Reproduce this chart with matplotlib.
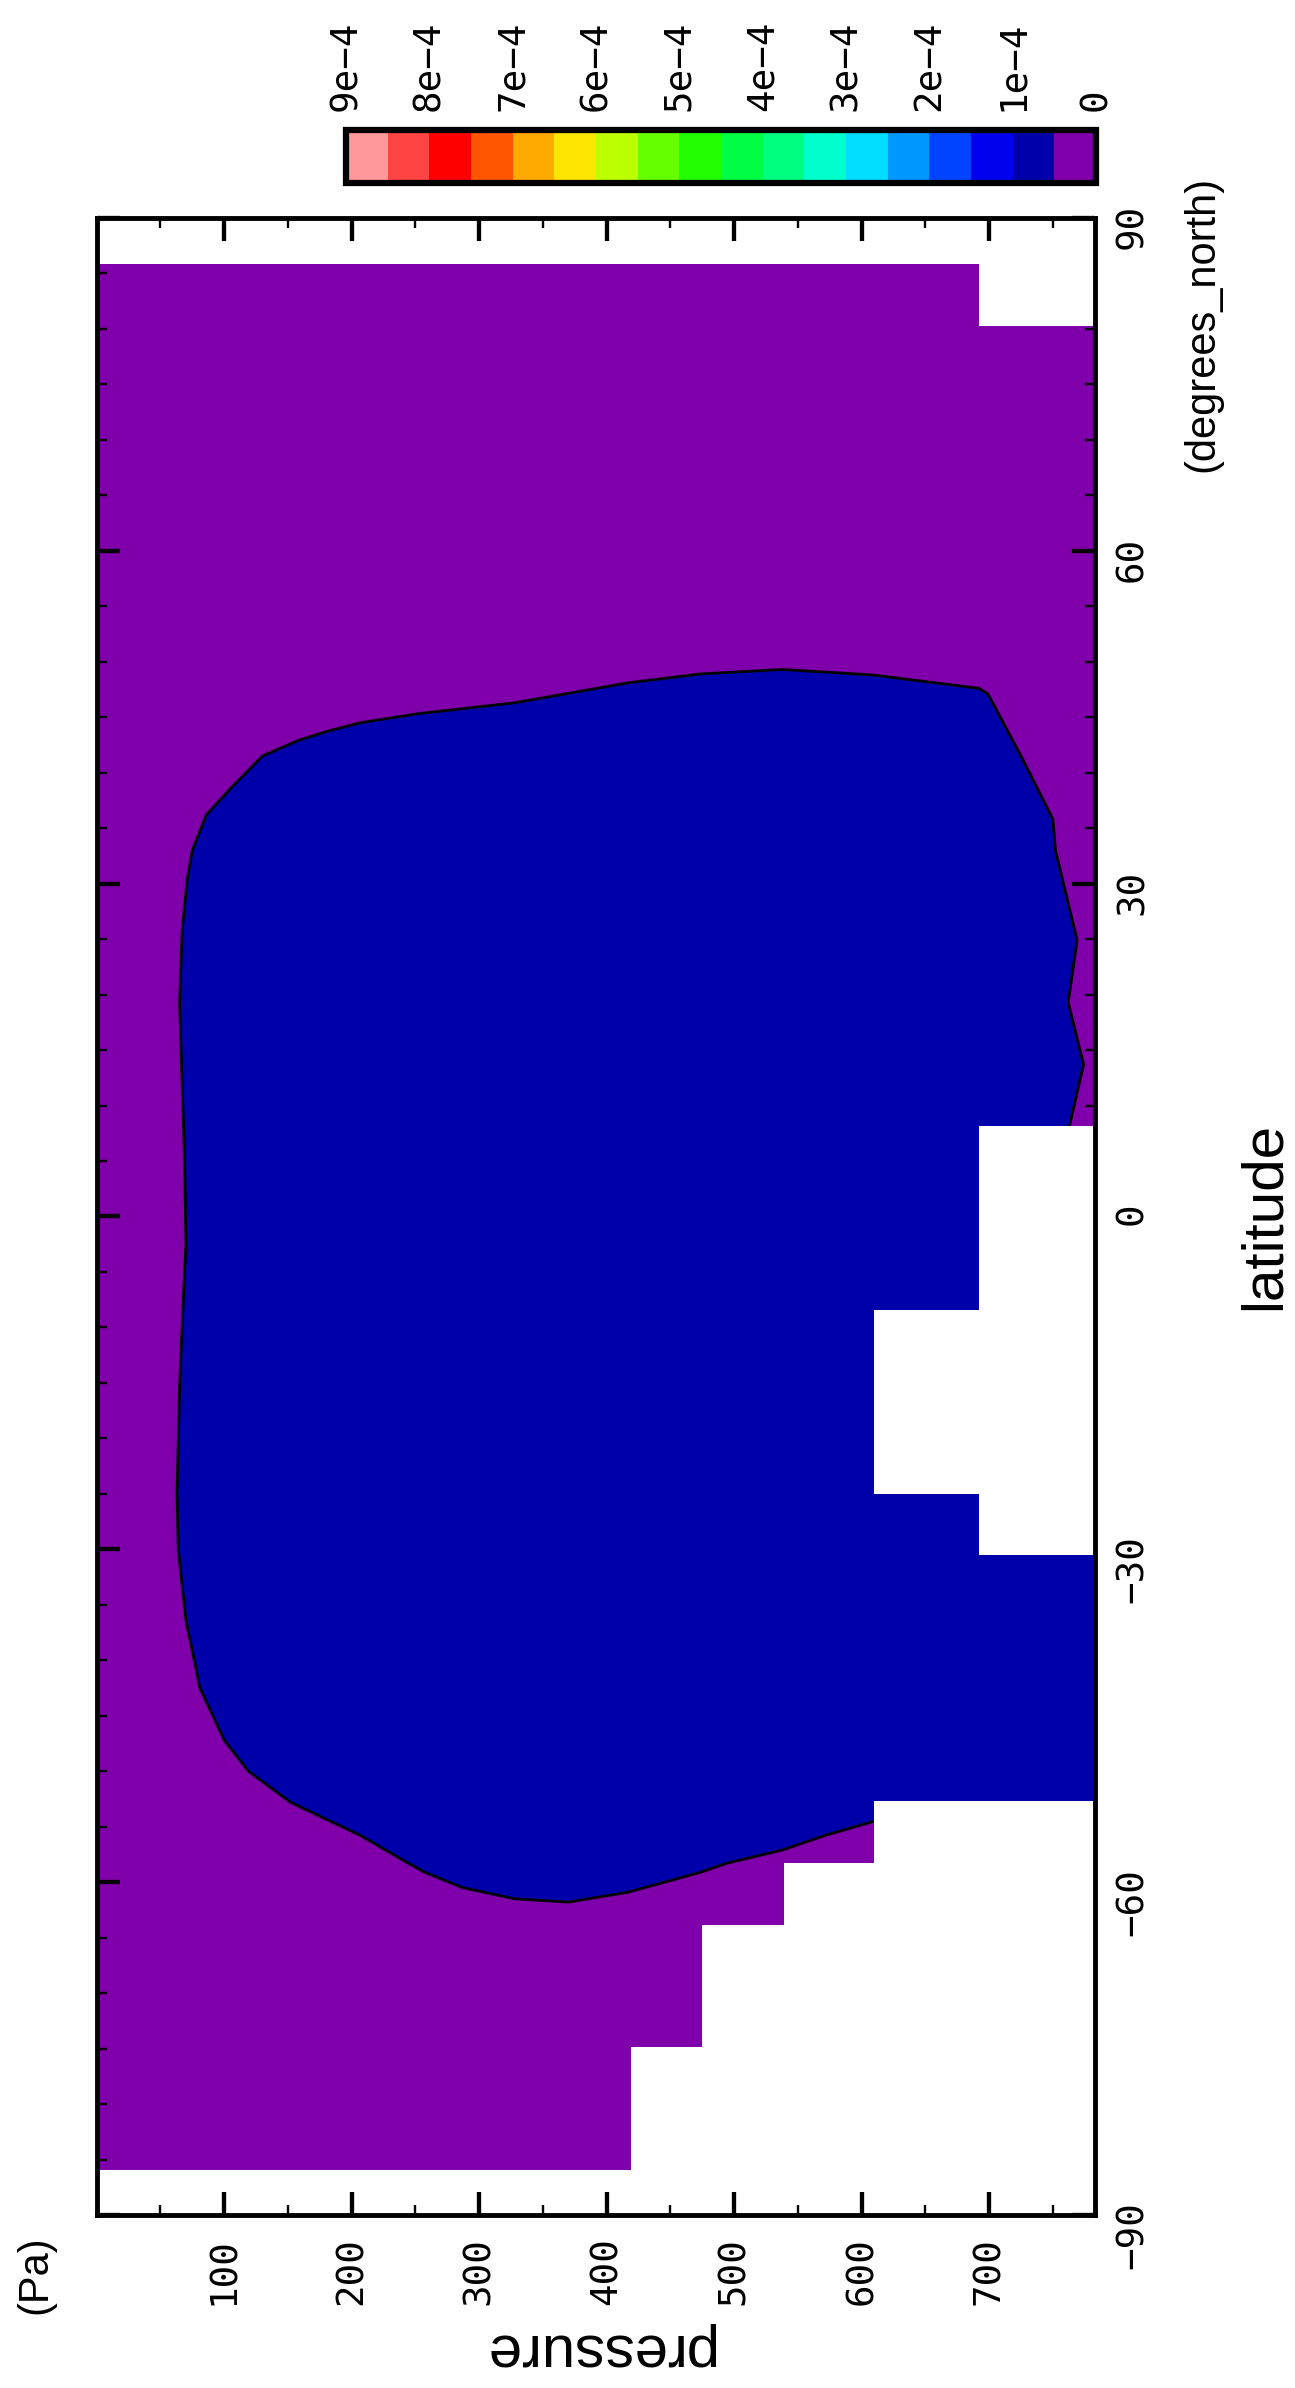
import numpy as np
import matplotlib
matplotlib.use('Agg')
import matplotlib.pyplot as plt
import matplotlib.cm as cm
from matplotlib.colors import ListedColormap, BoundaryNorm

# shade levels and colours (low -> high)
levels = [0, 0.5e-4, 1e-4, 1.5e-4, 2e-4, 2.5e-4, 3e-4, 3.5e-4, 4e-4, 4.5e-4,
          5e-4, 5.5e-4, 6e-4, 6.5e-4, 7e-4, 7.5e-4, 8e-4, 8.5e-4, 9e-4]
shade_colors = ['#7F00AA', '#0000AA', '#0000EE', '#0044FF', '#0099FF', '#00DDFF',
                '#00FFCC', '#00FF80', '#00FF44', '#22FF00', '#66FF00', '#BBFF00',
                '#FFE600', '#FFAA00', '#FF5500', '#FF0000', '#FF4444', '#FF9999']
cbar_ticks = [0, 1e-4, 2e-4, 3e-4, 4e-4, 5e-4, 6e-4, 7e-4, 8e-4, 9e-4]
cbar_labels = ['0', '1e\u22124', '2e\u22124', '3e\u22124', '4e\u22124', '5e\u22124',
               '6e\u22124', '7e\u22124', '8e\u22124', '9e\u22124']

# 5e-5 contour (pressure in Pa, latitude in degrees_north)
contour_p = [763, 774, 762, 769, 752, 750, 725, 699, 692, 609, 538, 474, 417, 328,
             251, 207, 180, 158, 130, 106, 86, 75, 71, 67, 65, 69, 70, 68, 65, 63,
             64, 70, 81, 100, 119, 152, 207, 240, 257, 287, 328, 370, 417, 455, 474,
             494, 538, 571, 610]
contour_lat = [8.15, 13.7, 19.3, 24.9, 33.0, 35.8, 41.5, 47.1, 47.6, 48.8, 49.3, 48.9,
               48.1, 46.3, 45.3, 44.5, 43.7, 42.9, 41.5, 38.7, 36.2, 33.0, 30.4, 25.7,
               19.3, 4.8, -2.5, -7.3, -15.3, -25.0, -30.1, -36.4, -42.5, -47.2, -50.0,
               -52.8, -55.8, -58.0, -59.1, -60.5, -61.5, -61.8, -60.9, -59.7, -59.1,
               -58.3, -57.1, -55.8, -54.5]

# missing data below the surface: latitude bands and the pressure where data stops
mask_lat = [-85.96, -74.90, -63.82, -58.30, -52.73, -30.47, -25.0, -8.40, 8.15, 80.30, 85.86]
mask_p = [419, 475, 539, 610, None, 692, 610, 692, None, 692]

pmax = 783
lat_ticks = [-90, -60, -30, 0, 30, 60, 90]
lat_labels = ['\u221290', '\u221260', '\u221230', '0', '30', '60', '90']
p_ticks = [100, 200, 300, 400, 500, 600, 700]
p_labels = ['100', '200', '300', '400', '500', '600', '700']

plt.rcParams['font.family'] = ['DejaVu Sans Mono']
plt.rcParams['font.size'] = 27

W, H = 1295, 2388
fig = plt.figure(figsize=(W / 100, H / 100), dpi=100)


def fx(px):
    return px / W


def fy(py):
    return 1 - py / H


cmap = ListedColormap(shade_colors)
norm = BoundaryNorm(levels, cmap.N)

ax = fig.add_axes([fx(96.7), fy(2215), (1095 - 96.7) / W, (2215 - 217.9) / H])
ax.fill_betweenx([mask_lat[0], mask_lat[-1]], 0, pmax, color=cmap(0), lw=0, zorder=1)
ax.fill(contour_p + [pmax, pmax], contour_lat + [contour_lat[-1], contour_lat[0]],
        color=cmap(1), lw=0, zorder=2)
ax.plot(contour_p, contour_lat, color='k', lw=2, zorder=3)
for i in range(len(mask_p)):
    if mask_p[i] is None:
        continue
    ax.fill_betweenx([mask_lat[i], mask_lat[i + 1]], mask_p[i], pmax,
                     color='white', lw=0, zorder=4)

ax.set_xlim(0, pmax)
ax.set_ylim(-90, 90)
ax.set_xticks(p_ticks, labels=p_labels)
ax.set_xticks(np.arange(50, 800, 100), minor=True)
ax.set_yticks(lat_ticks, labels=lat_labels)
ax.set_yticks(np.arange(-85, 90, 5), minor=True)
ax.tick_params(which='both', direction='in', top=True, bottom=True, left=True, right=True,
               labelbottom=True, labeltop=False, labelleft=False, labelright=True)
ax.tick_params(which='major', length=16.5, width=3.1)
ax.tick_params(which='minor', length=7.5, width=1.7)
ax.tick_params(axis='x', labelrotation=90, pad=16)
ax.tick_params(axis='y', labelrotation=90, pad=14)
for s in ax.spines.values():
    s.set_linewidth(3.5)
    s.set_zorder(6)

fig.text(fx(1280), fy(1216), 'latitude', rotation=90, rotation_mode='anchor',
         ha='center', va='baseline', family='Liberation Sans', size=42)
fig.text(fx(597), fy(2334), 'pressure', rotation=180, rotation_mode='anchor',
         ha='center', va='baseline', family='Liberation Sans', size=43)
fig.text(fx(46), fy(2275), '(Pa)', rotation=90, rotation_mode='anchor',
         ha='center', va='baseline', family='Liberation Sans', size=30)
fig.text(fx(1213), fy(324), '(degrees_north)', rotation=90, rotation_mode='anchor',
         ha='center', va='baseline', family='Liberation Sans', size=30)

cax = fig.add_axes([fx(346), fy(183), (1096 - 346) / W, (183 - 130) / H])
cb = fig.colorbar(cm.ScalarMappable(norm=norm, cmap=cmap), cax=cax,
                  orientation='horizontal', drawedges=True)
cb.set_ticks(cbar_ticks, labels=cbar_labels)
cax.invert_xaxis()
cax.xaxis.set_ticks_position('top')
cax.tick_params(length=0, labelrotation=90, pad=14, labeltop=True, labelbottom=False)
cb.outline.set_linewidth(4.5)
cb.dividers.set_color('k')
cb.dividers.set_linewidth(3.5)

fig.savefig('out.png', dpi=100)
